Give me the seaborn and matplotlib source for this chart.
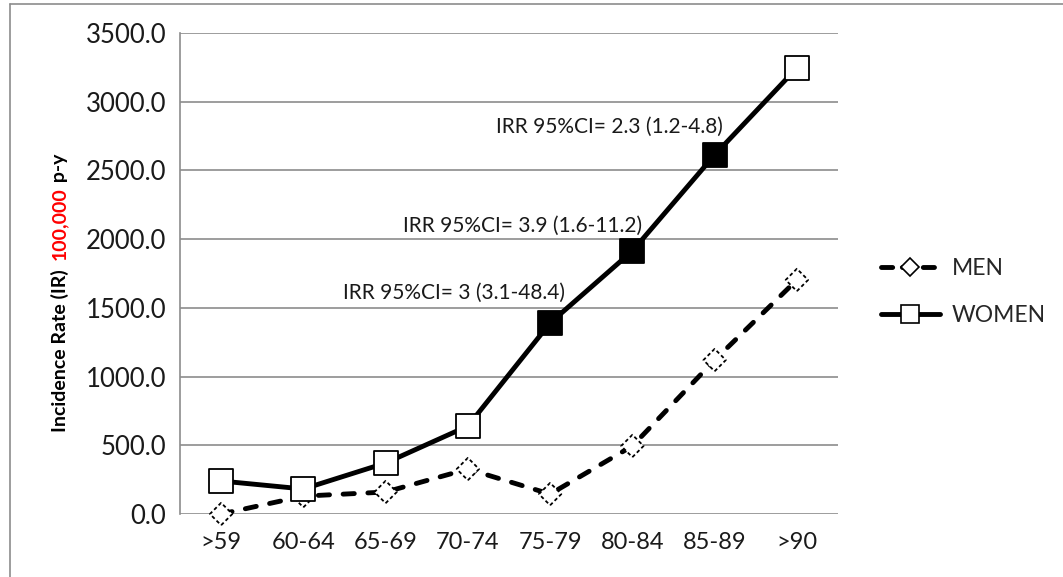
import numpy as np
import pandas as pd
import matplotlib
matplotlib.use("Agg")
import matplotlib.pyplot as plt
from matplotlib.lines import Line2D
import seaborn as sns

# data
age_groups = [">59", "60-64", "65-69", "70-74", "75-79", "80-84", "85-89", ">90"]
men_ir = [0, 130, 160, 327, 145, 495, 1120, 1703]
women_ir = [240, 182, 371, 640, 1390, 1914, 2613, 3246]
women_significant = [False, False, False, False, True, True, True, False]
irr_labels = ["IRR 95%CI= 3 (3.1-48.4)", "IRR 95%CI= 3.9 (1.6-11.2)", "IRR 95%CI= 2.3 (1.2-4.8)"]
irr_pos = [(4.18, 1608), (5.12, 2096), (6.1, 2817)]

sns.set_theme(style="white")
plt.rcParams['font.family'] = ['Lato', 'DejaVu Sans']

pos = np.arange(len(age_groups))
df = pd.DataFrame({
    'pos': np.concatenate([pos, pos]),
    'ir': men_ir + women_ir,
    'sex': ['MEN'] * len(pos) + ['WOMEN'] * len(pos),
})

fig = plt.figure(figsize=(10.63, 5.77), dpi=100)
ax = fig.add_axes([180 / 1063, 1 - 514 / 577, (838 - 180) / 1063, (514 - 33) / 577])

sns.lineplot(data=df, x='pos', y='ir', style='sex', color='black', linewidth=3.5,
             dashes={'MEN': (2.3, 2.8), 'WOMEN': ''}, legend=False, ax=ax, zorder=3)
for ln in ax.lines:
    ln.set_dash_capstyle('round')
    ln.set_solid_capstyle('round')
    ln.set_clip_on(False)

# markers
ax.scatter(pos, men_ir, marker='D', s=130, facecolors='white', edgecolors='black',
           linewidths=1.3, linestyles=(0, (2, 1.5)), zorder=4, clip_on=False)
ax.scatter(pos, women_ir, marker='s', s=300,
           facecolors=['black' if f else 'white' for f in women_significant],
           edgecolors='black', linewidths=1.3, zorder=5, clip_on=False)

for txt, (xx, yy) in zip(irr_labels, irr_pos):
    ax.text(xx, yy, txt, ha='right', va='center', fontsize=15, color='#1a1a1a')

ax.set_xlim(-0.5, 7.5)
ax.set_ylim(0, 3500)
ax.set_yticks(np.arange(0, 3501, 500))
ax.set_yticklabels([f"{v:.1f}" for v in np.arange(0, 3501, 500)], fontsize=18.5)
ax.set_xticks(pos)
ax.set_xticklabels(age_groups, fontsize=17)
ax.tick_params(axis='both', length=0, colors='#1a1a1a')
ax.tick_params(axis='y', pad=10)
ax.tick_params(axis='x', pad=13)
ax.yaxis.grid(True, color='#8c8c8c', linewidth=1.2)
ax.set_xlabel('')
ax.set_ylabel('')
for s in ['top', 'right', 'bottom']:
    ax.spines[s].set_visible(False)
ax.spines['left'].set_color('#8c8c8c')
ax.spines['left'].set_linewidth(1.2)

# y label in three colored parts
fig.canvas.draw()
renderer = fig.canvas.get_renderer()
parts = [("Incidence Rate (IR)  ", 'black'), ("100,000", 'red'), (" p-y", 'black')]
y0 = 432
for txt, col in parts:
    t = fig.text(60 / 1063, 1 - y0 / 577, txt, rotation=90, ha='center', va='bottom',
                 fontsize=14, fontweight='bold', color=col)
    bb = t.get_window_extent(renderer)
    y0 -= bb.height

# legend
handles = [
    Line2D([], [], color='black', linewidth=3.5, linestyle=(0, (2.3, 2.0)), marker='D',
           markersize=9, markerfacecolor='white', markeredgecolor='black', markeredgewidth=1.2,
           dash_capstyle='round'),
    Line2D([], [], color='black', linewidth=3.5, marker='s', markersize=13,
           markerfacecolor='white', markeredgecolor='black', markeredgewidth=1.2),
]
fig.legend(handles, ['MEN', 'WOMEN'], loc='center left', bbox_to_anchor=(860 / 1063, 1 - 292 / 577),
           frameon=False, fontsize=16.5, handlelength=2.6, labelspacing=1.1, handletextpad=0.5)

# outer border (left and top only visible)
fig.add_artist(Line2D([10 / 1063, 10 / 1063], [0, 1 - 4 / 577], color='#8c8c8c', linewidth=1.2,
                      transform=fig.transFigure))
fig.add_artist(Line2D([10 / 1063, 1], [1 - 4 / 577, 1 - 4 / 577], color='#8c8c8c', linewidth=1.2,
                      transform=fig.transFigure))

fig.savefig('out.png', dpi=100)
